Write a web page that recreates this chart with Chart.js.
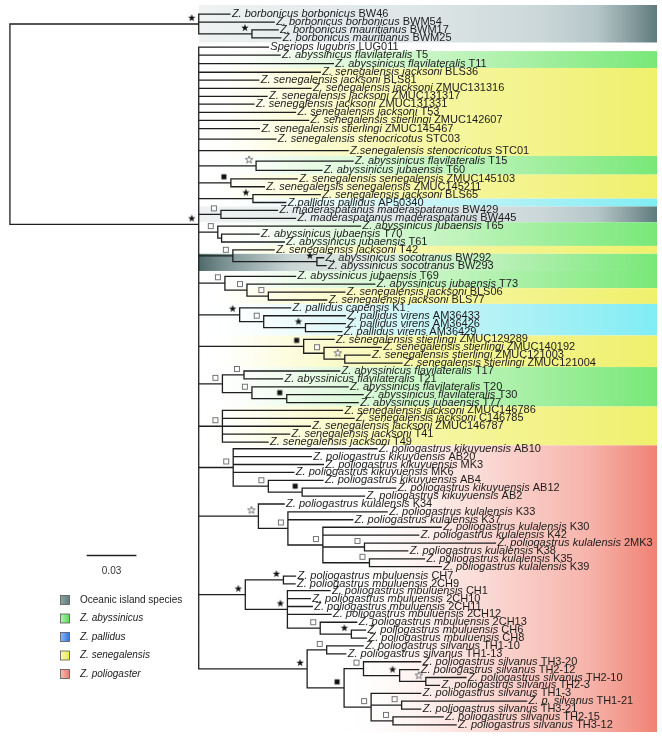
<!DOCTYPE html>
<html>
<head>
<meta charset="utf-8">
<title>Zosterops phylogeny</title>
<script src="https://cdn.jsdelivr.net/npm/chart.js@4.4.1/dist/chart.umd.min.js"></script>
<style>
    html, body { margin: 0; padding: 0; background: #fff; }
    #wrap { width: 662px; height: 737px; }
</style>
</head>
<body>
<div id="wrap"><canvas id="tree" width="662" height="737"></canvas></div>
<script>
// Tips, top to bottom
const tipTaxa = [
    'Z. borbonicus borbonicus', 'Z. borbonicus borbonicus', 'Z. borbonicus mauritianus', 'Z. borbonicus mauritianus',
    'Speriops lugubris', 'Z. abyssinicus flavilateralis', 'Z. abyssinicus flavilateralis',
    'Z. senegalensis jacksoni', 'Z. senegalensis jacksoni', 'Z. senegalensis jacksoni', 'Z. senegalensis jacksoni',
    'Z. senegalensis jacksoni', 'Z. senegalensis jacksoni', 'Z. senegalensis stierlingi', 'Z. senegalensis stierlingi',
    'Z. senegalensis stenocricotus', 'Z.senegalensis stenocricotus',
    'Z. abyssinicus flavilateralis', 'Z. abyssinicus jubaensis',
    'Z. senegalensis senegalensis', 'Z. senegalensis senegalensis', 'Z. senegalensis jacksoni', 'Z.pallidus pallidus',
    'Z. maderaspatanus maderaspatanus', 'Z. maderaspatanus maderaspatanus',
    'Z. abyssinicus jubaensis', 'Z. abyssinicus jubaensis', 'Z. abyssinicus jubaensis',
    'Z. senegalensis jacksoni', 'Z. abyssinicus socotranus', 'Z. abyssinicus socotranus',
    'Z. abyssinicus jubaensis', 'Z. abyssinicus jubaensis', 'Z. senegalensis jacksoni', 'Z. senegalensis jacksoni',
    'Z. pallidus capensis', 'Z. pallidus virens', 'Z. pallidus virens', 'Z. pallidus virens',
    'Z. senegalensis stierlingi', 'Z. senegalensis stierlingi', 'Z. senegalensis stierlingi', 'Z. senegalensis stierlingi',
    'Z. abyssinicus flavilateralis', 'Z. abyssinicus flavilateralis', 'Z. abyssinicus flavilateralis',
    'Z. abyssinicus flavilateralis', 'Z. abyssinicus jubaensis',
    'Z. senegalensis jacksoni', 'Z. senegalensis jacksoni', 'Z. senegalensis jacksoni', 'Z. senegalensis jacksoni',
    'Z. senegalensis jacksoni',
    'Z. poliogastrus kikuyuensis', 'Z. poliogastrus kikuyuensis', 'Z. poliogastrus kikuyuensis',
    'Z. poliogastrus kikuyuensis', 'Z. poliogastrus kikuyuensis', 'Z. poliogastrus kikuyuensis',
    'Z. poliogastrus kikuyuensis',
    'Z. poliogastrus kulalensis', 'Z. poliogastrus kulalensis', 'Z. poliogastrus kulalensis',
    'Z. poliogastrus kulalensis', 'Z. poliogastrus kulalensis', 'Z. poliogastrus kulalensis',
    'Z. poliogastrus kulalensis', 'Z. poliogastrus kulalensis', 'Z. poliogastrus kulalensis',
    'Z. poliogastrus mbuluensis', 'Z. poliogastrus mbuluensis', 'Z. poliogastrus mbuluensis',
    'Z. poliogastrus mbuluensis', 'Z. poliogastrus mbuluensis', 'Z. poliogastrus mbuluensis',
    'Z. poliogastrus mbuluensis', 'Z. poliogastrus mbuluensis', 'Z. poliogastrus mbuluensis',
    'Z. poliogastrus silvanus', 'Z. poliogastrus silvanus', 'Z. poliogastrus silvanus',
    'Z. poliogastrus silvanus', 'Z. poliogastrus silvanus', 'Z. poliogastrus silvanus',
    'Z. poliogastrus silvanus', 'Z. p. silvanus', 'Z. poliogastrus silvanus',
    'Z. poliogastrus silvanus', 'Z. poliogastrus silvanus'
];
const tipCodes = [
    'BW46', 'BWM54', 'BWM17', 'BWM25',
    'LUG011', 'T5', 'T11',
    'BLS36', 'BLS81', 'ZMUC131316', 'ZMUC131317', 'ZMUC131331', 'T53', 'ZMUC142607', 'ZMUC145467',
    'STC03', 'STC01', 'T15', 'T60',
    'ZMUC145103', 'ZMUC145211', 'BLS65', 'AP50340', 'BW429', 'BW445',
    'T65', 'T70', 'T61', 'T42', 'BW292', 'BW293',
    'T69', 'T73', 'BLS06', 'BLS77', 'K1', 'AM36433', 'AM36426', 'AM36429',
    'ZMUC129289', 'ZMUC140192', 'ZMUC121003', 'ZMUC121004',
    'T17', 'T21', 'T20', 'T30', 'T77',
    'ZMUC146786', 'C146785', 'ZMUC146787', 'T41', 'T49',
    'AB10', 'AB20', 'MK3', 'MK6', 'AB4', 'AB12', 'AB2',
    'K34', 'K33', 'K37', 'K30', 'K42', '2MK3', 'K38', 'K35', 'K39',
    'CH7', '2CH9', 'CH1', '2CH10', '2CH11', '2CH12', '2CH13', 'CH6', 'CH8',
    'TH1-10', 'TH1-13', 'TH3-20', 'TH2-12', 'TH2-10', 'TH2-3', 'TH1-3', 'TH1-21', 'TH3-21', 'TH2-15', 'TH3-12'
];
// Distance of each tip from the root (substitutions per site)
const tipDepth = [
    0.1327, 0.1594, 0.1618, 0.1634,
    0.1559, 0.1630, 0.1951,
    0.1872, 0.1501, 0.1816, 0.1551, 0.1472, 0.1723, 0.1802, 0.1505,
    0.1604, 0.2040, 0.2070, 0.1882,
    0.1733, 0.1535, 0.1872, 0.1664, 0.1614, 0.1723,
    0.2115, 0.1503, 0.1655, 0.1594, 0.1892, 0.1907,
    0.1723, 0.2201, 0.2020, 0.1911, 0.1693, 0.2023, 0.2023, 0.2002,
    0.1955, 0.2240, 0.2172, 0.2365,
    0.1989, 0.1644, 0.2040, 0.2131, 0.2101,
    0.2006, 0.2076, 0.1812, 0.1687, 0.1557,
    0.2214, 0.1818, 0.1891, 0.1713, 0.1888, 0.2327, 0.2139,
    0.1654, 0.2276, 0.2068, 0.2602, 0.2466, 0.2929, 0.2400, 0.2501, 0.2602,
    0.1723, 0.1720, 0.1931, 0.1812, 0.1824, 0.1937, 0.2092, 0.2145, 0.2151,
    0.2131, 0.2026, 0.2478, 0.2466, 0.2751, 0.2591, 0.2478, 0.3117, 0.2478, 0.2614, 0.2692
];

// Internal nodes: children are tip numbers or other node names
const cladeName = ['root', 'borb', 'maur', 'main', 't15', 'sen', 'bls65', 'mad', 't65', 't70', 't42', 'soc',
    't69', 't73', 'bls06', 'k1', 'am', 'am2', 'stier', 'st2', 'st3', 'abyF', 't17', 't20', 't30', 'jack',
    'kik', 'ab4', 'ab12', 'kul', 'k33', 'k30', 'mk3', 'k35', 'mbu', 'ch7', 'ch1', 'ch13', 'ch6',
    'sil', 'th110', 'low', 'th320', 'th212', 'th210', 'th13', 'th121', 'th215'];
const cladeKids = [
    ['borb', 'main'], [0, 1, 'maur'], [2, 3],
    [4, 5, 6, 7, 8, 9, 10, 11, 12, 13, 14, 15, 16, 't15', 'sen', 'bls65', 'mad', 't65', 't42', 't69', 'k1',
        'stier', 'abyF', 'jack', 'kik', 'kul', 'mbu', 'sil'],
    [17, 18], [19, 20], [21, 22], [23, 24], [25, 't70'], [26, 27], [28, 'soc'], [29, 30],
    [31, 't73'], [32, 'bls06'], [33, 34], [35, 'am'], [36, 'am2'], [37, 38],
    [39, 'st2'], [40, 'st3'], [41, 42], ['t17', 't20'], [43, 44], [45, 't30'], [46, 47],
    [48, 49, 50, 51, 52], [53, 54, 55, 56, 'ab4'], [57, 'ab12'], [58, 59],
    [60, 'k33'], [61, 62, 'k30'], [63, 64, 'mk3', 'k35'], [65, 66], [67, 68],
    ['ch7', 'ch1'], [69, 70], [71, 72, 73, 74, 'ch13'], [75, 'ch6'], [76, 77],
    ['th110', 'low'], [78, 79], ['th320', 'th13'], [80, 'th212'], [81, 'th210'], [82, 83],
    [84, 'th121', 'th215'], [85, 86], [87, 88]
];
const cladeDepth = [
    0, 0.1139, 0.1460, 0.1139, 0.1485, 0.1333, 0.1466, 0.1273, 0.1254, 0.1277, 0.1345, 0.1852,
    0.1297, 0.1430, 0.1559, 0.1386, 0.1531, 0.1783, 0.1772, 0.1895, 0.2020, 0.1282, 0.1412, 0.1460, 0.1670,
    0.1282, 0.1347, 0.1559, 0.1763, 0.1499, 0.1677, 0.1888, 0.2139, 0.2169, 0.1420, 0.1650, 0.1674, 0.1872,
    0.2060, 0.1793, 0.1911, 0.2016, 0.2133, 0.2351, 0.2509, 0.2179, 0.2363, 0.2311
];
// Support symbols: S filled star, s open star, Q filled square, q open square
const cladeMark = [
    '', 'S', 'S', 'S', 's', 'Q', 'S', 'q', 'q', '', 'q', 'S',
    'q', 'q', 'q', 'S', 'q', 'S', 'Q', 'q', 's', 'q', 'q', 'q', 'Q',
    'q', 'q', 'q', 'Q', 's', 'q', 'q', 'q', 'q', 'S', 'S', 'S', 'q', 'S',
    'S', 'q', 'Q', 'q', 'S', 's', 'q', 'q', 'q'
];
// The big polytomy is not drawn at its children's midpoint; row
const fixedRow = { main: 26.65 };

// Extra space (in rows) inserted before some tips
const gapTips = [4, 6, 7, 9, 12, 14, 15, 16, 17, 18, 19, 31, 53, 63, 69, 71];
const gapRows = [0.18, 0.1, 0.08, 0.05, 0.04, 0.05, 0.34, 0.46, 0.33, 0.17, 0.07, 0.35, -0.15, -0.05, 0.18, -0.14];

// Coloured bands: first tip, last tip, group
const bandFrom = [0, 5, 7, 17, 19, 22, 23, 25, 28, 29, 31, 33, 35, 39, 43, 48, 53];
const bandTo = [3, 6, 16, 18, 21, 22, 24, 27, 28, 30, 32, 34, 38, 42, 47, 52, 88];
const bandKind = ['O', 'A', 'S', 'A', 'S', 'P', 'O', 'A', 'S', 'X', 'A', 'S', 'P', 'S', 'A', 'S', 'G'];

const legendKind = ['O', 'A', 'P', 'S', 'G'];
const legendText = ['Oceanic island species', 'Z. abyssinicus', 'Z. pallidus', 'Z. senegalensis', 'Z. poliogaster'];
const scaleBarLength = 0.03;
const scaleBarStart = 0.0463;

const LABEL_FONT = '"Liberation Sans", Arial, Helvetica, sans-serif';

const bandStops = {
    O: [[0, '#eef2f3'], [0.5, '#dde5e6'], [0.75, '#cbd7d9'], [0.87, '#b5c6c8'], [0.95, '#83999b'], [1, '#5d7a7c']],
    A: [[0, 'rgba(255,255,255,0)'], [0.2, '#eefbec'], [0.55, '#c2f4be'], [1, '#78e878']],
    S: [[0, 'rgba(255,255,255,0)'], [0.15, '#fdfde8'], [0.5, '#f6f6a4'], [1, '#eff06c']],
    P: [[0, 'rgba(255,255,255,0)'], [0.2, '#eefbfb'], [0.55, '#c2f3f6'], [1, '#80edf4']],
    G: [[0, 'rgba(255,255,255,0)'], [0.3, 'rgba(255,255,255,0)'], [0.55, '#fce6e2'], [0.85, '#f6b4ab'], [1, '#f08274']],
    X: [[0, '#4f6a6a'], [0.06, '#7d9494'], [0.2, '#c9d5d5'], [0.35, '#e3ece6'], [0.6, '#c4f2c2'], [1, '#78e878']]
};
const legendColor = {
    O: ['#8fa6a6', '#5f7b7b'], A: ['#b6f7b6', '#52d852'], P: ['#8fc0ff', '#2f6fd8'],
    S: ['#fbfbb8', '#e8e84a'], G: ['#f8c0b8', '#e8786c']
};

// Row of every tip
const tipRow = [];
let shift = 0;
tipCodes.forEach((code, i) => {
    const g = gapTips.indexOf(i);
    if (g >= 0) shift += gapRows[g];
    tipRow.push(i + shift);
});

// Place internal nodes
const clades = {};
cladeName.forEach((name, i) => {
    clades[name] = { kids: cladeKids[i], depth: cladeDepth[i], mark: cladeMark[i] };
});

function place(ref) {
    if (typeof ref === 'number') return { x: tipDepth[ref], y: tipRow[ref] };
    const c = clades[ref];
    if (c.pos) return c.pos;
    c.kidPos = c.kids.map(place);
    const first = c.kidPos[0].y;
    const last = c.kidPos[c.kidPos.length - 1].y;
    const y = fixedRow[ref] !== undefined ? fixedRow[ref] : (first + last) / 2;
    c.pos = { x: c.depth, y: y };
    return c.pos;
}
place('root');

// Branch segments, broken with empty points
const treePoints = [];
cladeName.forEach(name => {
    const c = clades[name];
    const ys = c.kidPos.map(k => k.y);
    treePoints.push({ x: c.depth, y: Math.min(...ys) }, { x: c.depth, y: Math.max(...ys) }, { x: NaN, y: NaN });
    c.kidPos.forEach(k => {
        treePoints.push({ x: c.depth, y: k.y }, { x: k.x, y: k.y }, { x: NaN, y: NaN });
    });
});

// Support symbols drawn up and to the left of the node
function makeMark(kind) {
    const cv = document.createElement('canvas');
    cv.width = 30;
    cv.height = 30;
    const g = cv.getContext('2d');
    const cx = 15 - 7, cy = 15 - 6;
    if (kind === 'S' || kind === 's') {
        g.beginPath();
        for (let i = 0; i < 10; i++) {
            const r = i % 2 ? 1.6 : 3.9;
            const a = -Math.PI / 2 + i * Math.PI / 5;
            g.lineTo(cx + r * Math.cos(a), cy + r * Math.sin(a));
        }
        g.closePath();
        if (kind === 'S') {
            g.fillStyle = '#111';
            g.fill();
        } else {
            g.fillStyle = '#fff';
            g.fill();
            g.strokeStyle = '#555';
            g.lineWidth = 0.8;
            g.stroke();
        }
    } else if (kind === 'Q') {
        g.fillStyle = '#111';
        g.fillRect(cx - 2.5, cy - 2.5, 5, 5);
    } else {
        g.fillStyle = '#fff';
        g.fillRect(cx - 2.5, cy - 2.5, 5, 5);
        g.strokeStyle = '#666';
        g.lineWidth = 0.9;
        g.strokeRect(cx - 2.5, cy - 2.5, 5, 5);
    }
    return cv;
}

const markDatasets = ['S', 's', 'Q', 'q'].map(kind => ({
    label: 'support ' + kind,
    data: cladeName.filter(n => clades[n].mark === kind).map(n => ({ x: clades[n].pos.x, y: clades[n].pos.y })),
    pointStyle: makeMark(kind),
    pointRadius: 4,
    showLine: false
}));

// Bands behind the tips
const backdrop = {
    id: 'backdrop',
    beforeDatasetsDraw(chart) {
        const { ctx, chartArea, scales } = chart;
        const x0 = scales.x.getPixelForValue(clades.main.depth);
        const x1 = chartArea.right;
        ctx.save();
        bandFrom.forEach((from, i) => {
            const to = bandTo[i];
            const top = from === 0 ? chartArea.top : scales.y.getPixelForValue((tipRow[from - 1] + tipRow[from]) / 2);
            const bottom = to === tipRow.length - 1 ? chartArea.bottom
                : scales.y.getPixelForValue((tipRow[to] + tipRow[to + 1]) / 2);
            const grad = ctx.createLinearGradient(x0, 0, x1, 0);
            bandStops[bandKind[i]].forEach(s => grad.addColorStop(s[0], s[1]));
            ctx.fillStyle = grad;
            ctx.fillRect(x0, top, x1 - x0, bottom - top);
        });
        ctx.restore();
    }
};

// Tip names, legend and scale bar
const annotations = {
    id: 'annotations',
    afterDatasetsDraw(chart) {
        const { ctx, scales } = chart;
        ctx.save();
        ctx.textBaseline = 'middle';
        ctx.fillStyle = '#1c1c1c';
        tipCodes.forEach((code, i) => {
            let px = scales.x.getPixelForValue(tipDepth[i]) + 2;
            const py = scales.y.getPixelForValue(tipRow[i]);
            ctx.font = 'italic 11px ' + LABEL_FONT;
            ctx.fillText(tipTaxa[i], px, py);
            px += ctx.measureText(tipTaxa[i] + ' ').width;
            ctx.font = '11px ' + LABEL_FONT;
            ctx.fillText(code, px, py);
        });

        // scale bar
        const sx0 = scales.x.getPixelForValue(scaleBarStart);
        const sx1 = scales.x.getPixelForValue(scaleBarStart + scaleBarLength);
        ctx.strokeStyle = '#222';
        ctx.lineWidth = 1.4;
        ctx.beginPath();
        ctx.moveTo(sx0, 555.5);
        ctx.lineTo(sx1, 555.5);
        ctx.stroke();
        ctx.font = '10px ' + LABEL_FONT;
        ctx.textAlign = 'center';
        ctx.fillStyle = '#333';
        ctx.fillText(scaleBarLength.toFixed(2), (sx0 + sx1) / 2, 571);

        // legend
        ctx.textAlign = 'left';
        legendKind.forEach((kind, i) => {
            const cy = 600 + i * 18.5;
            const grad = ctx.createLinearGradient(60, 0, 70, 0);
            grad.addColorStop(0, legendColor[kind][0]);
            grad.addColorStop(1, legendColor[kind][1]);
            ctx.fillStyle = grad;
            ctx.fillRect(60.5, cy - 4.5, 9, 9);
            ctx.strokeStyle = '#555';
            ctx.lineWidth = 0.8;
            ctx.strokeRect(60.5, cy - 4.5, 9, 9);
            ctx.fillStyle = '#222';
            ctx.font = (i === 0 ? '' : 'italic ') + '10px ' + LABEL_FONT;
            ctx.fillText(legendText[i], 80, cy);
        });
        ctx.restore();
    }
};

document.addEventListener('DOMContentLoaded', () => {
    const ctx = document.getElementById('tree').getContext('2d');
    new Chart(ctx, {
        type: 'scatter',
        data: {
            datasets: [{
                label: 'branches',
                data: treePoints,
                showLine: true,
                spanGaps: false,
                borderColor: '#1e1e1e',
                borderWidth: 1.3,
                borderCapStyle: 'square',
                pointRadius: 0,
                pointHoverRadius: 0
            }].concat(markDatasets)
        },
        options: {
            responsive: false,
            animation: false,
            events: [],
            layout: { padding: 0 },
            plugins: {
                legend: { display: false },
                tooltip: { enabled: false }
            },
            scales: {
                x: { type: 'linear', display: false, min: -0.00297, max: 0.39037 },
                y: { type: 'linear', display: false, reverse: true, min: -1.16, max: 90.965 }
            }
        },
        plugins: [backdrop, annotations]
    });
});
</script>
</body>
</html>
